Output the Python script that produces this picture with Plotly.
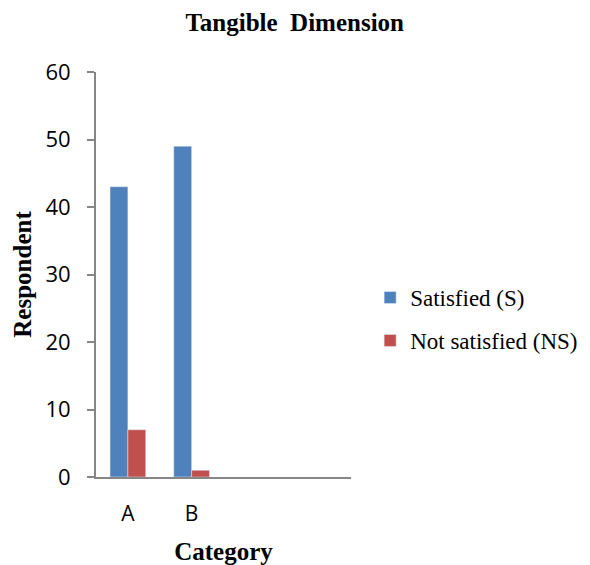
import plotly.graph_objects as go

categories = ["A", "B"]
satisfied = [43, 49]
not_satisfied = [7, 1]
y_ticks = [0, 10, 20, 30, 40, 50, 60]

fig = go.Figure()
fig.add_trace(go.Bar(x=categories, y=satisfied, name="Satisfied (S)",
                     marker=dict(color="#4F81BD"), legendgroup="s"))
fig.add_trace(go.Bar(x=categories, y=not_satisfied, name="Not satisfied (NS)",
                     marker=dict(color="#C0504D"), legendgroup="ns"))

serif = "Liberation Serif, Times New Roman, serif"
sans = "Open Sans, Carlito, sans-serif"

# page renders with a small body offset, so margins are nudged up/left
fig.update_layout(
    width=590, height=565,
    margin=dict(l=88, r=247, t=64, b=96, autoexpand=False),
    paper_bgcolor="white", plot_bgcolor="white",
    barmode="group", bargap=0.44, bargroupgap=0,
    title=dict(text="<b>Tangible&nbsp; Dimension</b>", x=0.486, xanchor="center",
               y=0.99, yanchor="top", font=dict(family=serif, size=25, color="black")),
    legend=dict(x=1.075, y=0.39, xanchor="left", yanchor="middle",
                font=dict(family=serif, size=23, color="black"),
                tracegroupgap=10, itemwidth=30),
    showlegend=True,
)
fig.update_xaxes(
    type="category", range=[-0.5, 3.5],
    showline=True, linecolor="#868686", linewidth=2,
    ticks="", showgrid=False,
    tickfont=dict(family=sans, size=21, color="black"),
    ticklabelstandoff=17,
    title=dict(text="<b>Category</b>", font=dict(family=serif, size=25, color="black"),
               standoff=16),
)
fig.update_yaxes(
    range=[0, 60], tickvals=y_ticks,
    showline=True, linecolor="#868686", linewidth=2,
    ticks="outside", ticklen=7, tickcolor="#868686", tickwidth=2,
    showgrid=False, zeroline=False,
    tickfont=dict(family=sans, size=22, color="black"),
    ticklabelstandoff=12,
    title=dict(text="<b>Respondent</b>", font=dict(family=serif, size=25, color="black"),
               standoff=7),
)

fig.write_html("out.html")
